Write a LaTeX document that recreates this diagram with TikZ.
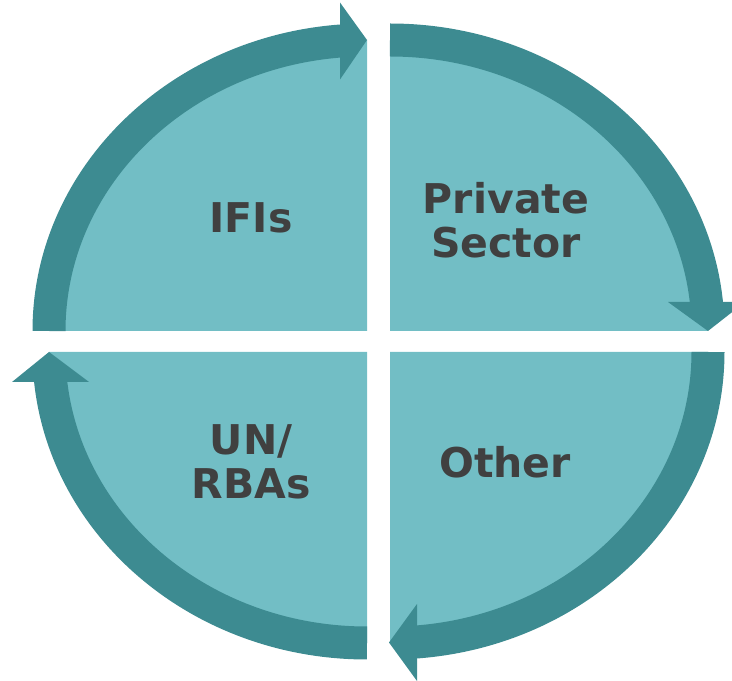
\documentclass[tikz,border=0pt]{standalone}
\usepackage{fontspec}
\setmainfont{DejaVu Sans}
\definecolor{segfill}{HTML}{72BEC5}
\definecolor{ringteal}{HTML}{3D8B91}
\definecolor{labelgray}{HTML}{404040}
\begin{document}
\begin{tikzpicture}[x=1pt,y=1pt,
  segment/.style={fill=segfill},
  ringband/.style={draw=ringteal, line width=33pt, line cap=butt},
  ringhead/.style={fill=ringteal},
  lbl/.style={text=labelgray, font=\bfseries\fontsize{41}{44}\selectfont, align=center}]
\useasboundingbox (0,0) rectangle (732,681);
\clip (0,0) rectangle (732,681);

% four quarter segments, each with its own corner at the cross-shaped gap
\fill[segment] (367,350) -- ++(180:318 and 291)
  arc[start angle=180, end angle=90, x radius=318, y radius=291] -- cycle;
\fill[segment] (390,350) -- ++(90:318 and 291)
  arc[start angle=90, end angle=0, x radius=318, y radius=291] -- cycle;
\fill[segment] (390,329) -- ++(0:318 and 291)
  arc[start angle=0, end angle=-90, x radius=318, y radius=291] -- cycle;
\fill[segment] (367,329) -- ++(-90:318 and 291)
  arc[start angle=-90, end angle=-180, x radius=318, y radius=291] -- cycle;

% clockwise arc bands along the rim, each running a little under its arrowhead
\draw[ringband] (367,350) ++(180:318 and 291)
  arc[start angle=180, end angle=94, x radius=318, y radius=291];
\draw[ringband] (390,350) ++(90:318 and 291)
  arc[start angle=90, end angle=4.7, x radius=318, y radius=291];
\draw[ringband] (390,329) ++(0:318 and 291)
  arc[start angle=0, end angle=-86, x radius=318, y radius=291];
\draw[ringband] (367,329) ++(-90:318 and 291)
  arc[start angle=-90, end angle=-175, x radius=318, y radius=291];

% arrowheads at the clockwise ends
\fill[ringhead] (340,678.5) -- (367,641) -- (340,601.5) -- cycle;
\fill[ringhead] (668,379) -- (708,350) -- (745,379) -- cycle;
\fill[ringhead] (417,77) -- (389,38.5) -- (417,0) -- cycle;
\fill[ringhead] (12,299) -- (49,329) -- (89,299) -- cycle;

% segment labels
\node[lbl] (ifis) at (251,463) {IFIs};
\node[lbl] (private) at (506,461) {Private\\Sector};
\node[lbl] (unrbas) at (251,219) {UN/\\RBAs};
\node[lbl] (other) at (505,219) {Other};
\end{tikzpicture}
\end{document}
